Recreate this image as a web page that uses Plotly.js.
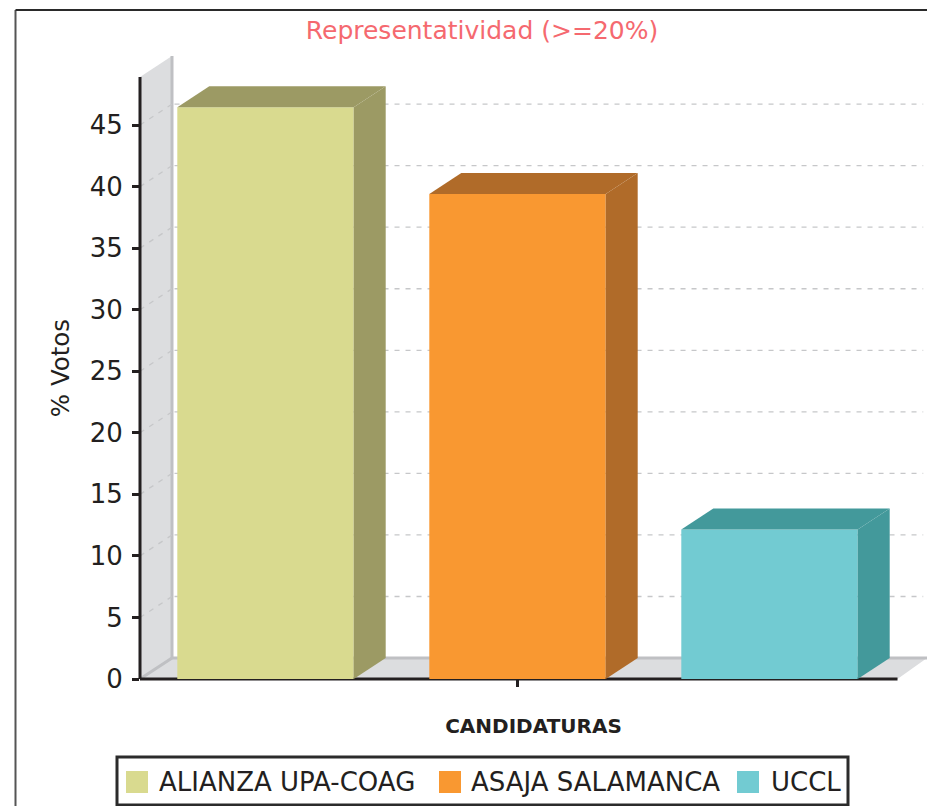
<!DOCTYPE html>
<html><head><meta charset="utf-8">
<script src="https://cdn.plot.ly/plotly-3.0.1.min.js"></script>
<style>html,body{margin:0;padding:0;background:#fff;overflow:hidden}</style>
</head><body><div id="chart" style="width:927px;height:806px"></div>
<script>
const categories = ['ALIANZA UPA-COAG', 'ASAJA SALAMANCA', 'UCCL'];
const values = [46.45, 39.4, 12.15];
const frontColors = ['#d9da8f', '#f99831', '#72cbd2'];
const sideColors = ['#9c9a64', '#b06b29', '#43999b'];
const yTicks = [0, 5, 10, 15, 20, 25, 30, 35, 40, 45];
const xAxisTitle = 'CANDIDATURAS';
const yAxisTitle = '% Votos';
const chartTitle = 'Representatividad (>=20%)';

const W = 927, H = 806;
const M = {l: 140, r: 0, t: 57, b: 127};
const plotW = W - M.l - M.r, plotH = H - M.t - M.b;
const barW = 0.7, depthX = 0.127, depthY = 1.7;
const xMin = -0.498, xEnd = 2.508, xMax = xMin + plotW / 252, yMax = plotH / 12.31, axisTop = 48.9;
const font = 'DejaVu Sans, sans-serif', dark = '#231f20';
const idx = categories.map((_, i) => i);

const px = v => (v - M.l) / plotW;
const py = v => 1 - (v - M.t) / plotH;
const dataX = v => (v - xMin) / (xMax - xMin);
const dataY = v => v / yMax;

// All background furniture goes in one unclipped layer, drawn in order, projected from data units
const paperRef = {xref:'paper', yref:'paper', layer:'below'};
const polyShape = (pts, fill) => ({type:'path', ...paperRef, line:{width:0}, fillcolor:fill,
  path:'M' + pts.map(p => dataX(p[0]) + ',' + dataY(p[1])).join('L') + 'Z'});
const lineShape = (x0, y0, x1, y1, line) => ({type:'line', ...paperRef, line,
  x0:dataX(x0), y0:dataY(y0), x1:dataX(x1), y1:dataY(y1)});

const shapes = [];
// back wall and floor
shapes.push(polyShape([[xMin,0],[xMin,axisTop],[xMin+depthX,axisTop+depthY],[xMin+depthX,depthY]], '#dcdddf'));
shapes.push(polyShape([[xMin,0],[xMin+depthX,depthY],[xMax,depthY],[xEnd,0]], '#dcdddf'));
// wall/floor seams
const seam = {color:'#bfc0c3', width:3};
shapes.push(lineShape(xMin+depthX, depthY, xMin+depthX, axisTop+depthY, seam));
shapes.push(lineShape(xMin+depthX, depthY, xMax, depthY, seam));
shapes.push(lineShape(xMin, 0, xMin+depthX, depthY, seam));
// gridlines
yTicks.slice(1).forEach(t => {
  const l = {color:'#c6c7c9', width:1.3, dash:'5px 6px'};
  shapes.push(lineShape(xMin, t, xMin+depthX, t+depthY, l));
  shapes.push(lineShape(xMin+depthX+0.01, t+depthY, xMax-0.015, t+depthY, l));
});
// axis lines
shapes.push(lineShape(xMin, 0, xMin, axisTop, {color:dark, width:3}));
shapes.push(lineShape(xMin, 0, xEnd, 0, {color:dark, width:3}));
// outer frame
shapes.push({type:'line', xref:'paper', yref:'paper', line:{color:'#555', width:2}, x0:px(15.5), x1:px(15.5), y0:py(10), y1:py(806)});
shapes.push({type:'line', xref:'paper', yref:'paper', line:{color:'#2a2a2a', width:2}, x0:px(15.5), x1:px(927), y0:py(10), y1:py(10)});
// legend
shapes.push({type:'rect', xref:'paper', yref:'paper', line:{color:'#2b2b2b', width:3}, fillcolor:'#fff',
  x0:px(117), x1:px(848), y0:py(757), y1:py(805)});
const legendSwatchX = [126, 439, 737], legendTextX = [159, 471, 771];
const annotations = [];
idx.forEach(i => {
  shapes.push({type:'rect', xref:'paper', yref:'paper', line:{width:0}, fillcolor:frontColors[i],
    x0:px(legendSwatchX[i]), x1:px(legendSwatchX[i]+22), y0:py(771), y1:py(793)});
  annotations.push({xref:'paper', yref:'paper', x:px(legendTextX[i]), y:py(782), xanchor:'left', yanchor:'middle',
    xshift:-2, showarrow:false, text:categories[i], font:{family:font, size:26, color:dark}});
});

// front faces
const traces = idx.map(i => ({type:'bar', x:[i], y:[values[i]], width:barW, name:categories[i],
  marker:{color:frontColors[i], line:{width:0}}, showlegend:false, hoverinfo:'x+y'}));
// top and side faces
idx.forEach(i => {
  const x0 = i - barW/2, x1 = i + barW/2, v = values[i];
  const face = (xs, ys) => ({type:'scatter', mode:'lines', x:xs, y:ys, fill:'toself', fillcolor:sideColors[i],
    line:{width:0, color:sideColors[i]}, showlegend:false, hoverinfo:'skip'});
  traces.push(face([x0, x0+depthX, x1+depthX, x1, x0], [v, v+depthY, v+depthY, v, v]));
  traces.push(face([x1, x1+depthX, x1+depthX, x1, x1], [0, depthY, v+depthY, v, 0]));
});

const layout = {
  width:W, height:H, margin:M, paper_bgcolor:'#fff', plot_bgcolor:'rgba(0,0,0,0)', showlegend:false,
  title:{text:chartTitle, x:482/W, xanchor:'center', y:1-30/H, yanchor:'middle', font:{family:font, size:25, color:'#f5696f'}},
  bargap:0.3,
  xaxis:{range:[xMin,xMax], tickmode:'array', tickvals:[1], ticktext:[''], ticks:'outside', ticklen:7, tickwidth:3, tickcolor:dark,
    showgrid:false, zeroline:false, showline:false, fixedrange:true, automargin:false,
    title:{text:'<b>'+xAxisTitle+'</b>', standoff:30, font:{family:font, size:20, color:dark}}},
  yaxis:{range:[0,yMax], tickmode:'array', tickvals:yTicks, ticks:'outside', ticklen:7, tickwidth:3, tickcolor:dark,
    showgrid:false, zeroline:false, showline:false, fixedrange:true, automargin:false,
    tickfont:{family:font, size:26, color:dark}, ticklabelstandoff:4,
    title:{text:yAxisTitle, standoff:13, font:{family:font, size:24.5, color:dark}}},
  shapes, annotations
};
Plotly.newPlot('chart', traces, layout, {displayModeBar:false, responsive:false});
</script></body></html>
